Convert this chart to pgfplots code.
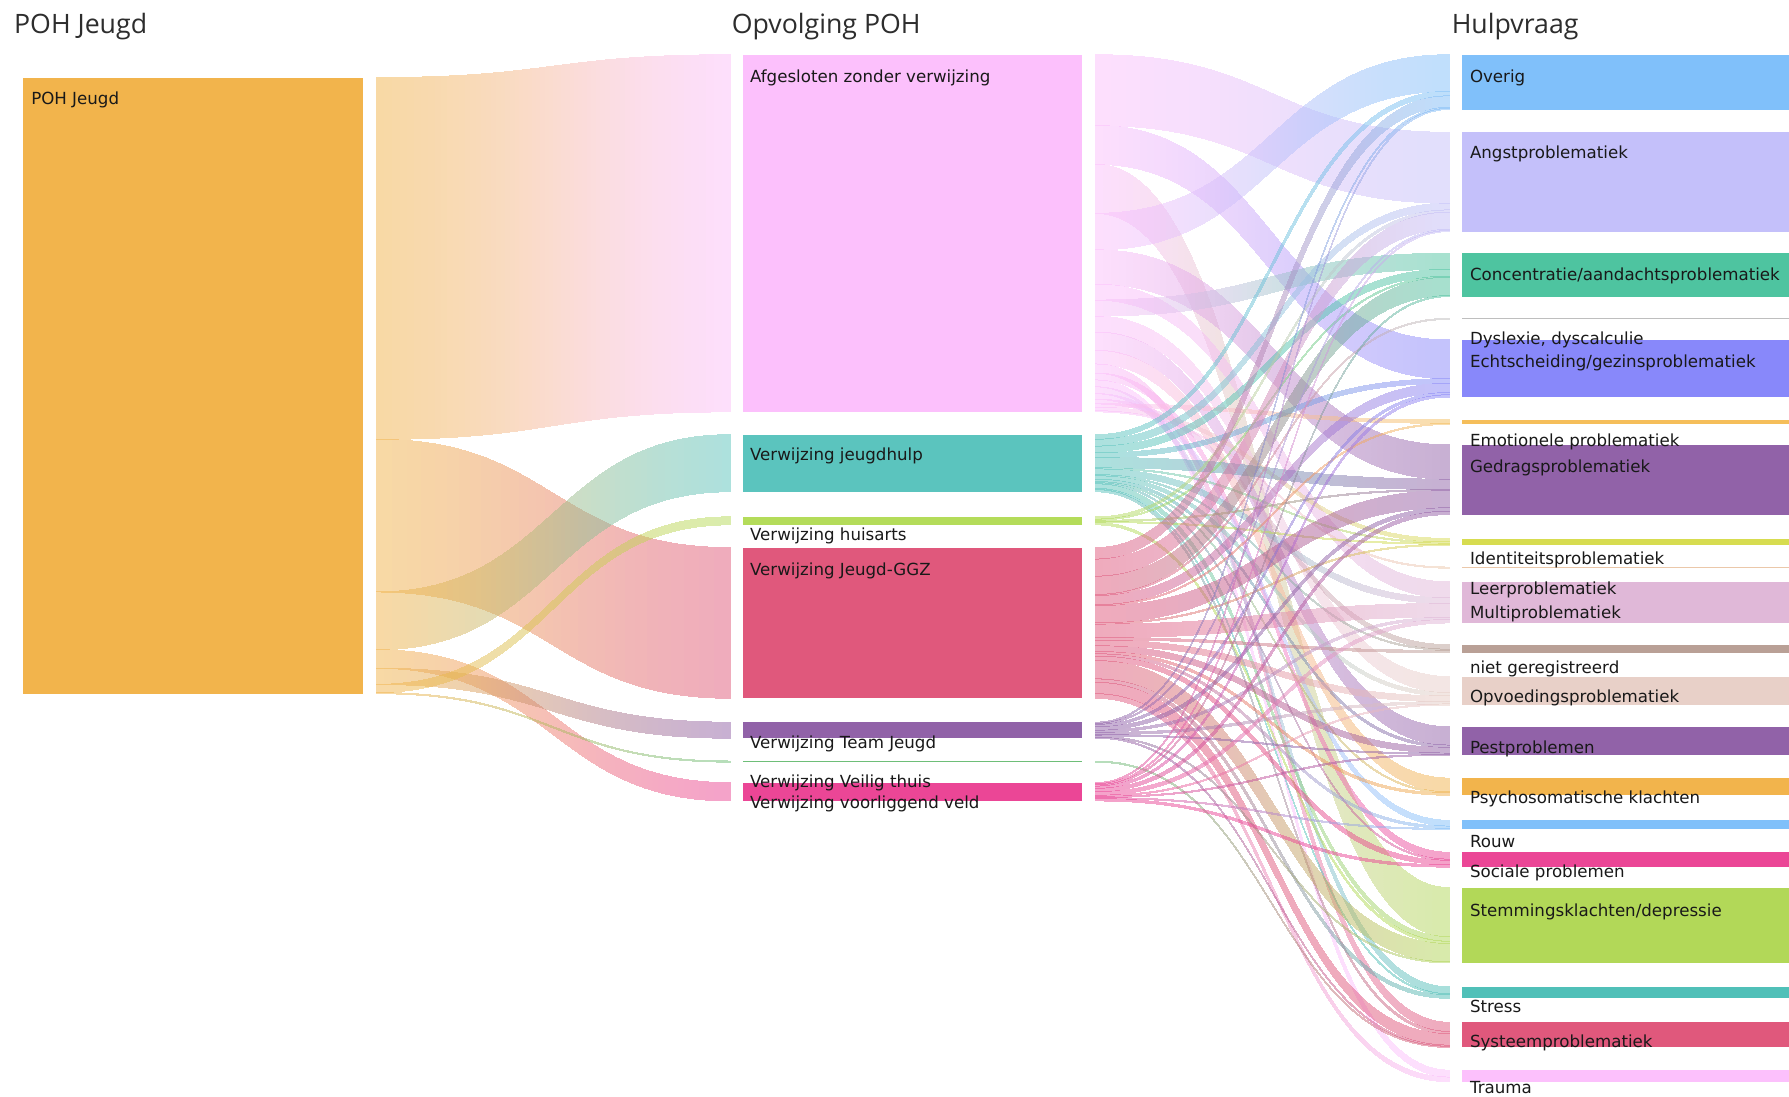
\documentclass[border=0pt]{standalone}
\usepackage{pgfplots}
\pgfplotsset{compat=1.18}
\usepackage{pgfplotstable}
\usepgfplotslibrary{patchplots}
\usepackage{fontspec}
\setmainfont{DejaVu Sans}
\newfontfamily\titlefont{Open Sans}

\definecolor{cP}{RGB}{242,180,76}
\definecolor{cAf}{RGB}{252,192,252}
\definecolor{cJh}{RGB}{91,196,190}
\definecolor{cHu}{RGB}{180,220,90}
\definecolor{cGG}{RGB}{224,88,124}
\definecolor{cTJ}{RGB}{145,98,168}
\definecolor{cVT}{RGB}{110,190,120}
\definecolor{cVV}{RGB}{235,70,150}
\definecolor{cOv}{RGB}{128,192,250}
\definecolor{cAn}{RGB}{196,192,250}
\definecolor{cCo}{RGB}{78,196,160}
\definecolor{cDy}{RGB}{190,190,190}
\definecolor{cEc}{RGB}{136,136,250}
\definecolor{cEm}{RGB}{245,190,90}
\definecolor{cGe}{RGB}{145,98,168}
\definecolor{cId}{RGB}{215,220,80}
\definecolor{cLe}{RGB}{235,200,170}
\definecolor{cMu}{RGB}{224,184,216}
\definecolor{cni}{RGB}{185,160,150}
\definecolor{cOp}{RGB}{232,208,200}
\definecolor{cPe}{RGB}{145,98,168}
\definecolor{cPs}{RGB}{242,180,76}
\definecolor{cRo}{RGB}{128,192,250}
\definecolor{cSo}{RGB}{235,70,150}
\definecolor{cSt}{RGB}{178,216,88}
\definecolor{cSr}{RGB}{80,192,184}
\definecolor{cSy}{RGB}{224,88,124}
\definecolor{cTr}{RGB}{252,192,252}
\definecolor{lblc}{RGB}{25,25,25}
\definecolor{ttlc}{RGB}{45,45,45}

\tikzset{
  lab/.style={anchor=base west, inner sep=0pt, text=lblc,
    font=\fontsize{7.3}{8}\selectfont},
  tstyle/.style={anchor=base west, inner sep=0pt, text=ttlc,
    font=\titlefont\fontsize{11.7}{13}\selectfont},
}

% POH Jeugd -> Opvolging POH
\pgfplotstableread{
s t v
P Af 313
P GG 132
P Jh 50
P VV 16
P TJ 14
P Hu 7
P VT 1
}\linksA

% Opvolging POH -> Hulpvraag
\pgfplotstableread{
s t v
Af An 62
Af Ec 34
Af St 43
Af Ov 32
Af Ge 30
Af Mu 14
Af Co 14
Af Op 14
Af Pe 16
Af Ps 12
Af Sy 8
Af So 6
Af Tr 6
Af Sr 6
Af Ro 5
Af ni 4
Af Em 3
Af Id 3
Af Le 1
Jh Ov 4
Jh An 6
Jh Co 6
Jh Ec 4
Jh Ge 9
Jh Id 1
Jh Mu 5
Jh ni 1
Jh Op 3
Jh Pe 2
Jh Ps 1
Jh So 1
Jh St 4
Jh Sr 1
Jh Sy 2
Hu An 2
Hu Co 1
Hu Ge 1
Hu Id 1
Hu St 2
GG Ov 10
GG An 15
GG Co 16
GG Dy 1
GG Ec 8
GG Em 1
GG Ge 15
GG Id 1
GG Mu 12
GG ni 2
GG Op 5
GG Pe 5
GG Ps 2
GG Ro 2
GG So 4
GG St 16
GG Sr 3
GG Sy 10
GG Tr 4
TJ Ov 1
TJ An 1
TJ Ec 2
TJ Ge 3
TJ Mu 2
TJ Op 2
TJ Pe 1
TJ St 1
TJ Sy 1
VT Sy 1
VV Ov 1
VV An 1
VV Co 1
VV Ec 2
VV Ge 3
VV Mu 3
VV Op 1
VV Pe 1
VV Ro 1
VV So 2
}\linksB

\newcommand\setnode[2]{%
  \expandafter\gdef\csname T#1\endcsname{#2}%
  \expandafter\gdef\csname O#1\endcsname{0}%
  \expandafter\gdef\csname I#1\endcsname{0}}
% node tops (pixels from the top)
\setnode{P}{68}
\setnode{Af}{48}\setnode{Jh}{381}\setnode{Hu}{453}\setnode{GG}{480}
\setnode{TJ}{633}\setnode{VT}{667}\setnode{VV}{686}
\setnode{Ov}{48}\setnode{An}{116}\setnode{Co}{222}\setnode{Dy}{279}
\setnode{Ec}{298}\setnode{Em}{368}\setnode{Ge}{390}\setnode{Id}{472}
\setnode{Le}{497}\setnode{Mu}{510}\setnode{ni}{565}\setnode{Op}{593}
\setnode{Pe}{637}\setnode{Ps}{682}\setnode{Ro}{719}\setnode{So}{747}
\setnode{St}{778}\setnode{Sr}{865}\setnode{Sy}{896}\setnode{Tr}{938}

\newcommand\drawlinks[4]{%
  \pgfplotstablegetrowsof{#1}%
  \pgfmathtruncatemacro\NN{\pgfplotsretval-1}%
  \pgfplotsforeachungrouped \ii in {0,...,\NN}{%
    \pgfplotstablegetelem{\ii}{s}\of{#1}\xdef\Ls{\pgfplotsretval}%
    \pgfplotstablegetelem{\ii}{t}\of{#1}\xdef\Lt{\pgfplotsretval}%
    \pgfplotstablegetelem{\ii}{v}\of{#1}\xdef\Lv{\pgfplotsretval}%
    \edef\Ts{\csname T\Ls\endcsname}\edef\Os{\csname O\Ls\endcsname}%
    \edef\Tt{\csname T\Lt\endcsname}\edef\It{\csname I\Lt\endcsname}%
    \pgfmathsetmacro\ya{\Ts+\Os}%
    \pgfmathsetmacro\yb{\ya+#4*\Lv}%
    \pgfmathsetmacro\yc{\Tt+\It}%
    \pgfmathsetmacro\yd{\yc+\Lv}%
    \pgfmathsetmacro\tmp{\Os+#4*\Lv}\expandafter\xdef\csname O\Ls\endcsname{\tmp}%
    \pgfmathsetmacro\tmp{\It+\Lv}\expandafter\xdef\csname I\Lt\endcsname{\tmp}%
    \pgfmathsetmacro\xm{(#2+#3)/2}%
    \edef\mycmd{\noexpand\addplot[patch,patch type=coons,shader=interp,
       mesh/color input=explicit,point meta=explicit symbolic,forget plot,
       execute at begin plot visualization={\noexpand\begin{scope}[transparency group,opacity=0.5]},
       execute at end plot visualization={\noexpand\end{scope}}]
       coordinates {(#2,\ya)[color=c\Ls] (\xm,\ya)[color=c\Ls] (\xm,\yc)[color=c\Lt]
       (#3,\yc)[color=c\Lt] (#3,\yc)[color=c\Lt] (#3,\yd)[color=c\Lt]
       (#3,\yd)[color=c\Lt] (\xm,\yd)[color=c\Lt] (\xm,\yb)[color=c\Ls]
       (#2,\yb)[color=c\Ls] (#2,\yb)[color=c\Ls] (#2,\ya)[color=c\Ls]};}%
    \mycmd
  }%
}
\newcommand\drawbox[4]{%
  \edef\bt{\csname T#1\endcsname}\edef\bh{\csname #4#1\endcsname}%
  \pgfmathsetmacro\bb{\bt+\bh}%
  \edef\mycmd{\noexpand\addplot[fill=c#1,draw=none,mark=none,forget plot]
    coordinates {(#2,\bt) (#3,\bt) (#3,\bb) (#2,\bb)} --cycle;}%
  \mycmd}

\begin{document}
\begin{tikzpicture}
\begin{axis}[
  width=784pt, height=480.5pt, scale only axis,
  xmin=0, xmax=1568, ymin=0, ymax=961, y dir=reverse,
  axis lines=none, ticks=none, clip=false,
  axis background/.style={fill=white},
]
\coordinate (SW) at (axis cs:0,961);
\coordinate (NE) at (axis cs:1568,0);

\drawlinks{\linksA}{330}{640}{1.01313}
\drawlinks{\linksB}{960}{1270}{1}

\drawbox{P}{20}{318}{O}
\drawbox{Af}{651}{948}{O}\drawbox{Jh}{651}{948}{O}\drawbox{Hu}{651}{948}{O}
\drawbox{GG}{651}{948}{O}\drawbox{TJ}{651}{948}{O}\drawbox{VT}{651}{948}{O}
\drawbox{VV}{651}{948}{O}
\drawbox{Ov}{1281}{1568}{I}\drawbox{An}{1281}{1568}{I}\drawbox{Co}{1281}{1568}{I}
\drawbox{Dy}{1281}{1568}{I}\drawbox{Ec}{1281}{1568}{I}\drawbox{Em}{1281}{1568}{I}
\drawbox{Ge}{1281}{1568}{I}\drawbox{Id}{1281}{1568}{I}\drawbox{Le}{1281}{1568}{I}
\drawbox{Mu}{1281}{1568}{I}\drawbox{ni}{1281}{1568}{I}\drawbox{Op}{1281}{1568}{I}
\drawbox{Pe}{1281}{1568}{I}\drawbox{Ps}{1281}{1568}{I}\drawbox{Ro}{1281}{1568}{I}
\drawbox{So}{1281}{1568}{I}\drawbox{St}{1281}{1568}{I}\drawbox{Sr}{1281}{1568}{I}
\drawbox{Sy}{1281}{1568}{I}\drawbox{Tr}{1281}{1568}{I}

\node[tstyle] at (axis cs:12,29.5) {POH Jeugd};
\node[tstyle] at (axis cs:641,29.5) {Opvolging POH};
\node[tstyle] at (axis cs:1272,29.5) {Hulpvraag};

\node[lab] at (axis cs:27,92) {POH Jeugd};

\node[lab] at (axis cs:657,72) {Afgesloten zonder verwijzing};
\node[lab] at (axis cs:657,404) {Verwijzing jeugdhulp};
\node[lab] at (axis cs:657,474) {Verwijzing huisarts};
\node[lab] at (axis cs:657,504) {Verwijzing Jeugd-GGZ};
\node[lab] at (axis cs:657,656) {Verwijzing Team Jeugd};
\node[lab] at (axis cs:657,690) {Verwijzing Veilig thuis};
\node[lab] at (axis cs:657,709) {Verwijzing voorliggend veld};

\node[lab] at (axis cs:1288,72) {Overig};
\node[lab] at (axis cs:1288,139) {Angstproblematiek};
\node[lab] at (axis cs:1288,246) {Concentratie/aandachtsproblematiek};
\node[lab] at (axis cs:1288,302) {Dyslexie, dyscalculie};
\node[lab] at (axis cs:1288,322) {Echtscheiding/gezinsproblematiek};
\node[lab] at (axis cs:1288,391) {Emotionele problematiek};
\node[lab] at (axis cs:1288,414) {Gedragsproblematiek};
\node[lab] at (axis cs:1288,495) {Identiteitsproblematiek};
\node[lab] at (axis cs:1288,521) {Leerproblematiek};
\node[lab] at (axis cs:1288,542) {Multiproblematiek};
\node[lab] at (axis cs:1288,590) {niet geregistreerd};
\node[lab] at (axis cs:1288,616) {Opvoedingsproblematiek};
\node[lab] at (axis cs:1288,660) {Pestproblemen};
\node[lab] at (axis cs:1288,704) {Psychosomatische klachten};
\node[lab] at (axis cs:1288,743) {Rouw};
\node[lab] at (axis cs:1288,769) {Sociale problemen};
\node[lab] at (axis cs:1288,803) {Stemmingsklachten/depressie};
\node[lab] at (axis cs:1288,887) {Stress};
\node[lab] at (axis cs:1288,918) {Systeemproblematiek};
\node[lab] at (axis cs:1288,958) {Trauma};
\end{axis}
\pgfresetboundingbox
\path[use as bounding box] (SW) rectangle (NE);
\end{tikzpicture}
\end{document}
